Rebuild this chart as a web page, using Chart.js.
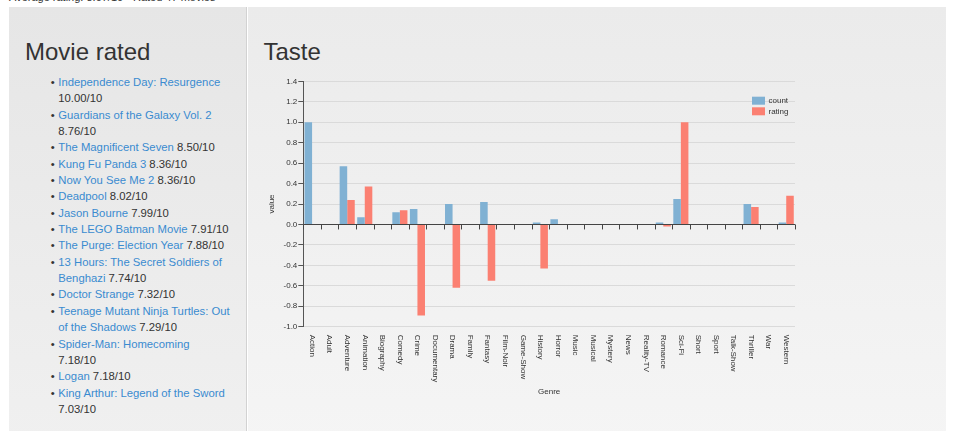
<!DOCTYPE html>
<html>
<head>
<meta charset="utf-8">
<title>Taste</title>
<script src="https://cdn.jsdelivr.net/npm/chart.js@4.4.1/dist/chart.umd.min.js"></script>
<style>
  html, body { margin: 0; padding: 0; }
  body {
    width: 954px; height: 431px; overflow: hidden; position: relative;
    background: #fff; color: #333;
    font-family: "Liberation Sans", Arial, sans-serif;
  }
  .summary { position: absolute; left: 9px; top: -9px; font-size: 11px; line-height: 13px; white-space: nowrap; }
  .panel { position: absolute; top: 7px; height: 440px; box-sizing: border-box; }
  .left { left: 9px; width: 238px; background: linear-gradient(#e6e6e6, #f0f0f0); border-right: 1px solid #d2d2d2; }
  .right { left: 248px; width: 698px; background: linear-gradient(#ebebeb, #f5f5f5); }
  h2 { position: absolute; margin: 0; font-size: 24px; line-height: 24px; font-weight: normal; color: #333; }
  .left h2 { left: 16px; top: 32.7px; }
  .right h2 { left: 15.5px; top: 32.7px; }
  ul { position: absolute; left: 0; top: 67px; margin: 0; padding: 0 0 0 49.3px; width: 222.5px; box-sizing: border-box;
       font-size: 11.3px; line-height: 16.35px; list-style: none; }
  li { margin: 0; position: relative; }
  li::before { content: '\2022'; position: absolute; left: -7.5px; top: 0; }
  a { color: #3a8bd0; text-decoration: none; }
  #wrap { position: absolute; left: 250px; top: 60px; width: 700px; height: 371px; }
</style>
</head>
<body>
<div class="summary">Average rating: 8.07/10 - Rated 47 movies</div>
<div class="panel left">
  <h2>Movie rated</h2>
  <ul id="movies"></ul>
</div>
<div class="panel right">
  <h2>Taste</h2>
</div>
<div id="wrap"><canvas id="tasteChart" width="700" height="371"></canvas></div>

<script>
const movieTitles = [
  'Independence Day: Resurgence', 'Guardians of the Galaxy Vol. 2', 'The Magnificent Seven',
  'Kung Fu Panda 3', 'Now You See Me 2', 'Deadpool', 'Jason Bourne', 'The LEGO Batman Movie',
  'The Purge: Election Year', '13 Hours: The Secret Soldiers of Benghazi', 'Doctor Strange',
  'Teenage Mutant Ninja Turtles: Out of the Shadows', 'Spider-Man: Homecoming', 'Logan',
  'King Arthur: Legend of the Sword'
];
const movieRatings = ['10.00', '8.76', '8.50', '8.36', '8.36', '8.02', '7.99', '7.91',
  '7.88', '7.74', '7.32', '7.29', '7.18', '7.18', '7.03'];

const genres = ['Action', 'Adult', 'Adventure', 'Animation', 'Biography', 'Comedy', 'Crime',
  'Documentary', 'Drama', 'Family', 'Fantasy', 'Film-Noir', 'Game-Show', 'History', 'Horror',
  'Music', 'Musical', 'Mystery', 'News', 'Reality-TV', 'Romance', 'Sci-Fi', 'Short', 'Sport',
  'Talk-Show', 'Thriller', 'War', 'Western'];
const countValues = [1.0, 0, 0.57, 0.07, 0, 0.12, 0.15, 0, 0.2, 0, 0.22, 0, 0, 0.02, 0.05,
  0, 0, 0, 0, 0, 0.02, 0.25, 0, 0, 0, 0.2, 0, 0.02];
const ratingValues = [0, 0, 0.24, 0.37, 0, 0.14, -0.89, 0, -0.62, 0, -0.55, 0, 0, -0.43, 0,
  0, 0, 0, 0, 0, -0.02, 1.0, 0, 0, 0, 0.17, 0, 0.28];
const valueTicks = [-1.0, -0.8, -0.6, -0.4, -0.2, 0.0, 0.2, 0.4, 0.6, 0.8, 1.0, 1.2, 1.4];

// movie list (Spider-Man's rating falls on the next line in the original)
const list = document.getElementById('movies');
movieTitles.forEach((t, i) => {
  const li = document.createElement('li');
  const a = document.createElement('a');
  a.href = '#';
  a.textContent = t;
  li.appendChild(a);
  if (t === 'Spider-Man: Homecoming') {
    li.appendChild(document.createElement('br'));
    li.appendChild(document.createTextNode(movieRatings[i] + '/10'));
  } else {
    li.appendChild(document.createTextNode(' ' + movieRatings[i] + '/10'));
  }
  list.appendChild(li);
});

Chart.defaults.font.family = '"Liberation Sans", Arial, sans-serif';
Chart.defaults.color = '#333';

// zero axis line ticks at band edges + rotated genre labels + legend
const tastePlugin = {
  id: 'taste',
  afterDatasetsDraw(chart) {
    const ctx = chart.ctx;
    const x = chart.scales.x;
    const y = chart.scales.y;
    const area = chart.chartArea;
    const zeroY = y.getPixelForValue(0);
    const half = (x.getPixelForValue(1) - x.getPixelForValue(0)) / 2;

    ctx.save();
    ctx.strokeStyle = '#444';
    ctx.lineWidth = 1;
    ctx.beginPath();
    for (let i = 0; i <= genres.length; i++) {
      const px = Math.round(x.getPixelForValue(i) - half) + 0.5;
      ctx.moveTo(px, zeroY);
      ctx.lineTo(px, zeroY + 5);
    }
    ctx.stroke();

    ctx.fillStyle = '#333';
    ctx.font = '8px "Liberation Sans", Arial, sans-serif';
    ctx.textAlign = 'left';
    ctx.textBaseline = 'middle';
    genres.forEach((g, i) => {
      ctx.save();
      ctx.translate(x.getPixelForValue(i), area.bottom + 8);
      ctx.rotate(Math.PI / 2);
      ctx.fillText(g, 0, 0);
      ctx.restore();
    });

    chart.data.datasets.forEach((ds, j) => {
      const bx = area.right - 43;
      const by = area.top + 15.4 + j * 10.6;
      ctx.fillStyle = ds.backgroundColor;
      ctx.fillRect(bx, by, 13, 8);
      ctx.fillStyle = '#333';
      ctx.fillText(ds.label, bx + 16.5, by + 4);
    });
    ctx.restore();
  }
};

new Chart(document.getElementById('tasteChart'), {
  type: 'bar',
  data: {
    labels: genres,
    datasets: [
      { label: 'count', data: countValues, backgroundColor: '#80b1d3' },
      { label: 'rating', data: ratingValues, backgroundColor: '#fb8072' }
    ]
  },
  options: {
    responsive: false,
    animation: false,
    devicePixelRatio: 1,
    categoryPercentage: 0.86,
    barPercentage: 1.0,
    layout: { padding: { left: 13, top: 21.3, right: 155, bottom: 30.5 } },
    plugins: { legend: { display: false }, tooltip: { enabled: false } },
    scales: {
      x: {
        offset: true,
        grid: { display: false },
        border: { display: false },
        ticks: { display: false },
        title: { display: true, text: 'Genre', font: { size: 8 }, color: '#333' },
        afterFit(scale) { scale.height = 73.8; }
      },
      y: {
        min: -1.0,
        max: 1.4,
        afterBuildTicks(axis) { axis.ticks = valueTicks.map(v => ({ value: v })); },
        grid: {
          color: c => (c.tick && c.tick.value === 0 ? '#444' : '#dadada'),
          tickColor: '#555',
          tickLength: 5
        },
        border: { display: true, color: '#555' },
        ticks: { font: { size: 8 }, padding: 1, color: '#333', callback: v => Number(v).toFixed(1) },
        title: { display: true, text: 'value', font: { size: 8 }, color: '#333' },
        afterFit(scale) { scale.width = 40.3; }
      }
    }
  },
  plugins: [tastePlugin]
});
</script>
</body>
</html>
